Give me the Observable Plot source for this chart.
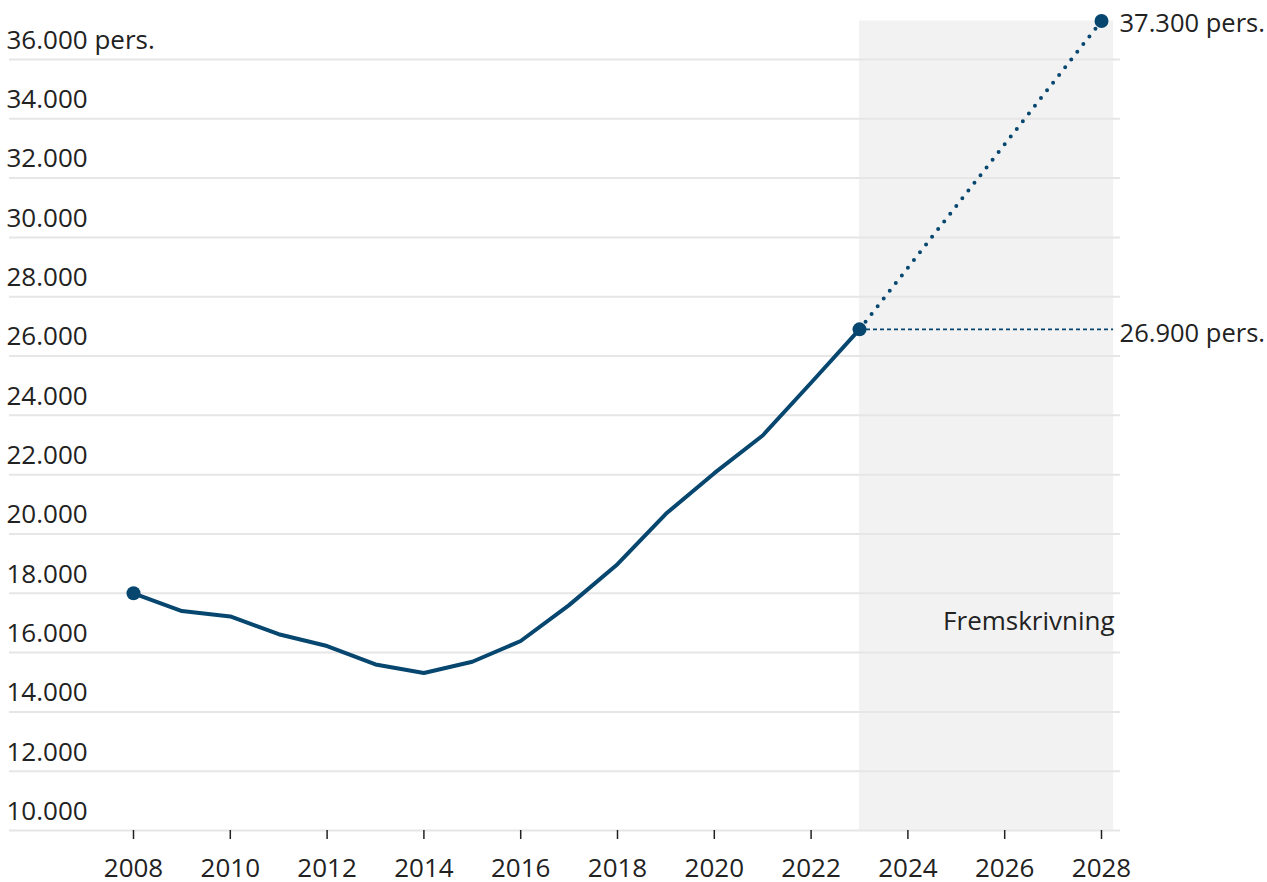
<!DOCTYPE html>
<html>
<head>
<meta charset="utf-8">
<script src="https://cdn.jsdelivr.net/npm/d3@7"></script>
<script src="https://cdn.jsdelivr.net/npm/@observablehq/plot@0.6"></script>
<style>
  html, body { margin: 0; padding: 0; background: #fff; }
  #chart svg { display: block; }
</style>
</head>
<body>
<div id="chart"></div>
<script>
const years = [2008, 2009, 2010, 2011, 2012, 2013, 2014, 2015, 2016, 2017, 2018, 2019, 2020, 2021, 2022, 2023];
const persons = [18000, 17400, 17220, 16620, 16220, 15600, 15310, 15690, 16390, 17600, 18980, 20680, 22050, 23320, 25100, 26900];
const projYears = [2023, 2028];
const projValues = [26900, 37300];
const yTicks = [10000, 12000, 14000, 16000, 18000, 20000, 22000, 24000, 26000, 28000, 30000, 32000, 34000, 36000];
const xTicks = [2008, 2010, 2012, 2014, 2016, 2018, 2020, 2022, 2024, 2026, 2028];
const shadeStart = 2023, shadeEnd = 2028.25;
const shadeLabel = "Fremskrivning";
const shadeLabelY = 17050;
const topLabel = "37.300 pers.";
const midLabel = "26.900 pers.";

const hist = years.map((y, i) => ({year: y, value: persons[i]}));
const proj = projYears.map((y, i) => ({year: y, value: projValues[i]}));
const fmt = d => d3.format(",")(d).replace(/,/g, ".");
const blue = "#07476f";
const font = "'Open Sans', sans-serif";
const fs = 26;
const fsEnd = 25.5;

const chart = Plot.plot({
  width: 1267,
  height: 882,
  marginLeft: 133,
  marginRight: 166,
  marginTop: 59,
  marginBottom: 52,
  style: {fontFamily: font, fontSize: fs + "px", color: "#222", background: "#fff"},
  x: {domain: [2008, 2028]},
  y: {domain: [10000, 36000]},
  marks: [
    Plot.rect([{x1: shadeStart, x2: shadeEnd, y1: 10000, y2: 37300}], {x1: "x1", x2: "x2", y1: "y1", y2: "y2", fill: "#f2f2f2"}),
    Plot.ruleY(yTicks, {stroke: "#e6e6e6", strokeWidth: 2, insetLeft: -124, insetRight: -19}),
    Plot.axisY(yTicks, {
      tickSize: 0, textAnchor: "start", dx: -118, dy: -19,
      tickFormat: d => fmt(d) + (d === 36000 ? " pers." : ""),
      fill: "#222", fontSize: fs, label: null
    }),
    Plot.axisX(xTicks, {
      tickSize: 9, tickPadding: 19, tickFormat: d => String(d),
      stroke: "#222", strokeWidth: 1.5, fill: "#222", fontSize: fs, label: null
    }),
    Plot.text([{x: shadeEnd, y: shadeLabelY}], {x: "x", y: "y", text: () => shadeLabel, textAnchor: "end", dx: 1, fill: "#222", fontSize: fs}),
    Plot.ruleY([26900], {x1: 2023, x2: shadeEnd, stroke: blue, strokeWidth: 1.6, strokeDasharray: "4 3"}),
    Plot.line(proj, {x: "year", y: "value", stroke: blue, strokeWidth: 4, strokeDasharray: "0 9.8", strokeLinecap: "round"}),
    Plot.line(hist, {x: "year", y: "value", stroke: blue, strokeWidth: 4, strokeLinejoin: "round"}),
    Plot.dot([hist[0], hist[hist.length - 1], proj[1]], {x: "year", y: "value", r: 7, fill: blue}),
    Plot.text([proj[1]], {x: "year", y: "value", text: () => topLabel, textAnchor: "start", dx: 18, dy: 3, fill: "#222", fontSize: fsEnd}),
    Plot.text([{year: shadeEnd, value: 26900}], {x: "year", y: "value", text: () => midLabel, textAnchor: "start", dx: 6, dy: 4, fill: "#222", fontSize: fsEnd})
  ]
});
document.getElementById("chart").appendChild(chart);
</script>
</body>
</html>
